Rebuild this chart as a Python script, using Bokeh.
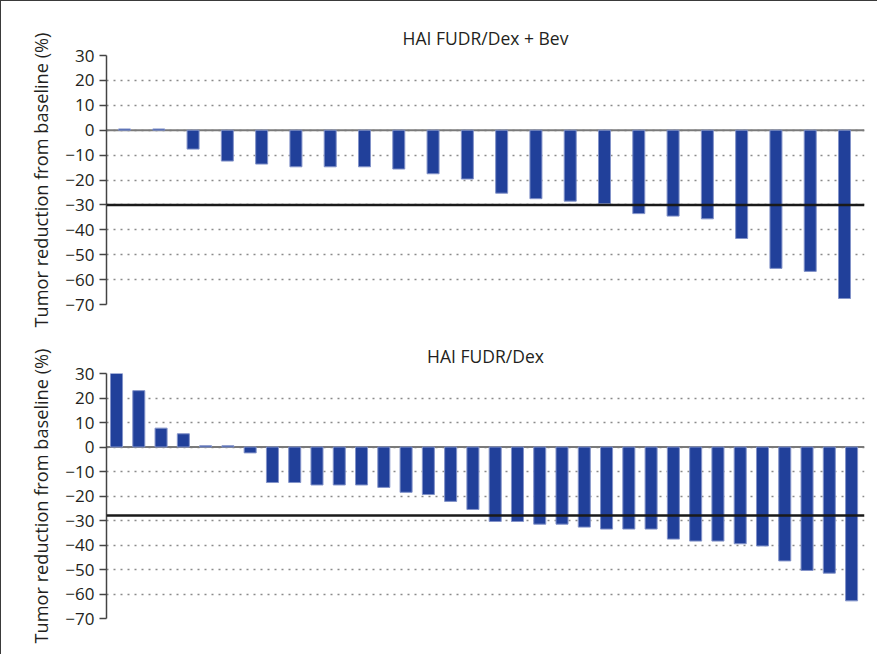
from bokeh.plotting import figure
from bokeh.models import Span, FixedTicker
from bokeh.layouts import column
from bokeh.embed import file_html
from bokeh.resources import INLINE

# ---- data ----
top_title = "HAI FUDR/Dex + Bev"
bottom_title = "HAI FUDR/Dex"
y_label = "Tumor reduction from baseline (%)"
y_ticks = [30, 20, 10, 0, -10, -20, -30, -40, -50, -60, -70]
top_values = [0.5, 0.5, -7.6, -12.4, -13.6, -14.7, -14.7, -14.7, -15.6, -17.5, -19.6,
              -25.3, -27.5, -28.5, -29.5, -33.5, -34.5, -35.6, -43.5, -55.5, -56.7, -67.6]
bottom_values = [30.3, 23.0, 7.7, 5.4, 0.5, 0.5, -2.4, -14.5, -14.5, -15.5, -15.5, -15.5,
                 -16.5, -18.5, -19.4, -22.2, -25.5, -30.4, -30.4, -31.5, -31.5, -32.7,
                 -33.5, -33.5, -33.5, -37.6, -38.4, -38.4, -39.5, -40.4, -46.5, -50.4,
                 -51.5, -62.8]
top_threshold = -30
bottom_threshold = -28

FONT = "Open Sans"
TEXT = "#231f20"
BAR = "#21409a"
BAR_EDGE = "#8393c9"


def make_panel(values, title, threshold, height, border_top, border_bottom, bar_width, pad_left, pad_right):
    n = len(values)
    p = figure(width=876, height=height, output_backend="svg", toolbar_location=None,
               x_range=(-pad_left, n - 1 + pad_right), y_range=(-70, 30),
               x_axis_location=None, title=title,
               min_border_left=105, min_border_right=13,
               min_border_top=border_top, min_border_bottom=border_bottom)
    p.title.align = "center"
    p.title.text_font = FONT
    p.title.text_font_size = "17.5px"
    p.title.text_font_style = "normal"
    p.title.text_color = TEXT
    p.title.standoff = 11
    p.outline_line_color = None
    p.background_fill_color = "white"
    p.border_fill_color = "white"

    p.xgrid.visible = False
    p.ygrid.ticker = FixedTicker(ticks=y_ticks)
    p.ygrid.grid_line_color = "#8a8a8a"
    p.ygrid.grid_line_width = 1.5
    p.ygrid.grid_line_dash = "2 5"

    ax = p.yaxis[0]
    ax.ticker = FixedTicker(ticks=y_ticks)
    ax.major_label_overrides = {t: (str(t).replace("-", "\u2212")) for t in y_ticks}
    ax.axis_label = y_label
    ax.axis_label_text_font = FONT
    ax.axis_label_text_font_size = "18.2px"
    ax.axis_label_text_font_style = "normal"
    ax.axis_label_text_color = TEXT
    ax.axis_label_standoff = 9
    ax.major_label_text_font = FONT
    ax.major_label_text_font_size = "17px"
    ax.major_label_text_color = TEXT
    ax.major_label_standoff = 5
    ax.axis_line_color = "#444444"
    ax.axis_line_width = 1.5
    ax.major_tick_line_color = "#444444"
    ax.major_tick_line_width = 1.5
    ax.major_tick_in = 0
    ax.major_tick_out = 7
    ax.minor_tick_line_color = None

    zero = Span(location=0, dimension="width", line_color="#7a7a7a", line_width=2, level="underlay")
    p.add_layout(zero)

    xs = list(range(n))
    p.vbar(x=xs, top=values, bottom=0, width=bar_width, fill_color=BAR,
           line_color=BAR_EDGE, line_width=1)

    thr = Span(location=threshold, dimension="width", line_color="#1a1a1a", line_width=2.5)
    p.add_layout(thr)
    return p


p1 = make_panel(top_values, top_title, top_threshold, 335, 54, 32, 0.35, 0.525, 0.583)
p2 = make_panel(bottom_values, bottom_title, bottom_threshold, 318, 32, 36, 0.54, 0.45, 0.58)

layout = column(p1, p2, spacing=0,
                styles={"border-left": "1.5px solid #3a3a3a", "border-top": "1.5px solid #3a3a3a"})

open("out.html", "w").write(file_html(layout, INLINE))
